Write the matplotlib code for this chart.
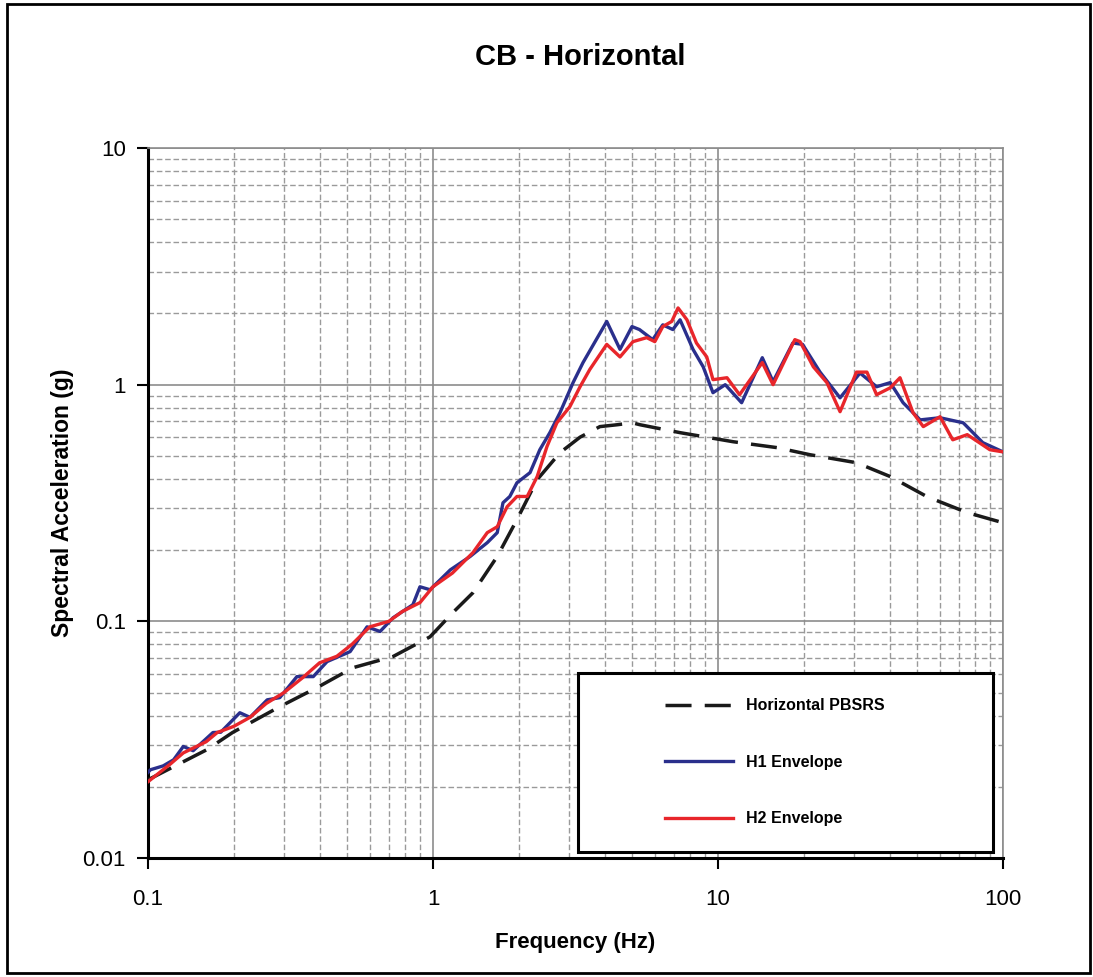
import matplotlib
matplotlib.use("Agg")
import matplotlib.pyplot as plt
from matplotlib.patches import Rectangle
from matplotlib.ticker import LogLocator, NullFormatter, FixedLocator, FixedFormatter

# Horizontal PBSRS (design spectrum)
pbsrs_freq = [0.1, 0.161, 0.198, 0.29, 0.392, 0.524, 0.724, 0.976, 1.175, 1.38,
              1.68, 1.97, 2.32, 2.79, 3.28, 3.85, 4.42, 5.0, 5.33, 7.36,
              11.3, 16.1, 21.0, 30.6, 40.2, 54.2, 74.9, 100.0]
pbsrs_sa = [0.0214, 0.0287, 0.0339, 0.0436, 0.0525, 0.0637, 0.071, 0.086, 0.109, 0.132,
            0.188, 0.269, 0.397, 0.516, 0.60, 0.665, 0.677, 0.69, 0.677, 0.627,
            0.574, 0.542, 0.506, 0.468, 0.409, 0.336, 0.288, 0.261]

# H1 envelope
h1_freq = [0.1, 0.102, 0.113, 0.123, 0.133, 0.144, 0.169, 0.18, 0.21, 0.228,
           0.262, 0.29, 0.333, 0.38, 0.425, 0.512, 0.587, 0.652, 0.724, 0.85,
           0.9, 0.976, 1.15, 1.35, 1.55, 1.68, 1.76, 1.86, 1.97, 2.19,
           2.37, 2.57, 2.79, 3.1, 3.36, 4.07, 4.53, 4.99, 5.3, 5.9,
           6.4, 6.94, 7.36, 8.17, 8.87, 9.6, 10.6, 12.1, 14.3, 15.6,
           18.3, 19.8, 22.8, 26.8, 31.5, 36.0, 40.2, 44.6, 51.2, 60.1,
           72.5, 84.9, 100.0]
h1_sa = [0.023, 0.0236, 0.0245, 0.026, 0.0296, 0.0284, 0.0339, 0.034, 0.0411, 0.0393,
         0.0466, 0.0476, 0.0584, 0.0584, 0.0676, 0.0745, 0.0948, 0.0906, 0.1035, 0.1176,
         0.140, 0.136, 0.165, 0.188, 0.215, 0.237, 0.317, 0.337, 0.385, 0.425,
         0.531, 0.627, 0.762, 1.02, 1.24, 1.85, 1.41, 1.76, 1.71, 1.55,
         1.79, 1.71, 1.88, 1.41, 1.19, 0.925, 1.0, 0.839, 1.30, 1.03,
         1.50, 1.48, 1.13, 0.88, 1.12, 0.98, 1.02, 0.839, 0.71, 0.725,
         0.69, 0.569, 0.52]

# H2 envelope
h2_freq = [0.1, 0.12, 0.133, 0.16, 0.175, 0.2, 0.228, 0.26, 0.3, 0.35,
           0.4, 0.46, 0.52, 0.6, 0.7, 0.78, 0.9, 1.0, 1.17, 1.38,
           1.55, 1.68, 1.82, 1.97, 2.14, 2.32, 2.51, 2.72, 3.02, 3.28,
           3.55, 4.07, 4.53, 5.03, 5.62, 6.0, 6.4, 6.88, 7.24, 7.78,
           8.4, 9.13, 9.6, 10.75, 11.9, 14.3, 15.6, 18.6, 19.4, 21.6,
           24.1, 26.8, 30.6, 33.3, 36.0, 40.2, 43.5, 48.3, 52.5, 60.1,
           66.6, 74.9, 89.9, 100.0]
h2_sa = [0.021, 0.025, 0.0278, 0.031, 0.0339, 0.036, 0.0393, 0.045, 0.05, 0.058,
         0.0668, 0.0712, 0.08, 0.0948, 0.10, 0.11, 0.12, 0.140, 0.16, 0.195,
         0.237, 0.251, 0.305, 0.337, 0.337, 0.409, 0.547, 0.69, 0.807, 0.98,
         1.16, 1.48, 1.31, 1.52, 1.58, 1.52, 1.76, 1.85, 2.11, 1.88,
         1.50, 1.31, 1.05, 1.07, 0.907, 1.24, 1.0, 1.55, 1.52, 1.19,
         1.02, 0.769, 1.13, 1.13, 0.907, 0.97, 1.07, 0.762, 0.665, 0.732,
         0.585, 0.615, 0.531, 0.52]

x_ticks = [0.1, 1, 10, 100]
x_ticklabels = ["0.1", "1", "10", "100"]
y_ticks = [0.01, 0.1, 1, 10]
y_ticklabels = ["0.01", "0.1", "1", "10"]

FONT = ["Liberation Sans Narrow", "Liberation Sans", "DejaVu Sans"]
plt.rcParams["font.family"] = FONT

fig = plt.figure(figsize=(10.93, 9.77), dpi=100)
ax = fig.add_axes([0.1354, 0.1218, 0.7823, 0.7267])

ax.plot(pbsrs_freq, pbsrs_sa, color="#1a1a1a", lw=2.5, dashes=(7.5, 3.8),
        label="Horizontal PBSRS", zorder=3)
ax.plot(h1_freq, h1_sa, color="#2a2f8c", lw=2.4, label="H1 Envelope", zorder=4)
ax.plot(h2_freq, h2_sa, color="#e8262b", lw=2.4, label="H2 Envelope", zorder=5)

ax.set_xscale("log")
ax.set_yscale("log")
ax.set_xlim(0.1, 100)
ax.set_ylim(0.01, 10)

ax.xaxis.set_major_locator(FixedLocator(x_ticks))
ax.xaxis.set_major_formatter(FixedFormatter(x_ticklabels))
ax.yaxis.set_major_locator(FixedLocator(y_ticks))
ax.yaxis.set_major_formatter(FixedFormatter(y_ticklabels))
ax.xaxis.set_minor_locator(LogLocator(base=10, subs=range(2, 10)))
ax.yaxis.set_minor_locator(LogLocator(base=10, subs=range(2, 10)))
ax.xaxis.set_minor_formatter(NullFormatter())
ax.yaxis.set_minor_formatter(NullFormatter())

ax.grid(which="major", color="#8c8c8c", lw=1.2, ls="-")
ax.grid(which="minor", color="#9a9a9a", lw=1.0, ls=(0, (4, 2)))
ax.set_axisbelow(True)

ax.tick_params(which="major", direction="out", length=8, width=1.5,
               labelsize=16, color="black")
ax.tick_params(axis="x", which="major", pad=14)
ax.tick_params(axis="y", which="major", pad=8)
ax.tick_params(which="minor", length=0)

for side in ("left", "bottom"):
    ax.spines[side].set_color("black")
    ax.spines[side].set_linewidth(2.2)
for side in ("top", "right"):
    ax.spines[side].set_color("#8c8c8c")
    ax.spines[side].set_linewidth(1.2)

ax.set_xlabel("Frequency (Hz)", fontsize=16, fontweight="bold", labelpad=16)
ax.set_ylabel("Spectral Acceleration (g)", fontsize=16.5, fontweight="bold", labelpad=6)
fig.text(0.531, 0.942, "CB - Horizontal", ha="center", va="center",
         fontsize=21, fontweight="bold")

# legend box with heavy border
ax.add_patch(Rectangle((0.503, 0.0085), 0.485, 0.252, transform=ax.transAxes,
                       facecolor="white", edgecolor="black", lw=2.2, zorder=6))
leg = ax.legend(loc="center left", bbox_to_anchor=(0.595, 0.135), frameon=False,
                fontsize=11.5, handlelength=4.3, handletextpad=0.8,
                labelspacing=2.6, borderpad=0)
leg.set_zorder(7)
for t in leg.get_texts():
    t.set_fontweight("bold")

# outer chart frame
fig.add_artist(Rectangle((0.006, 0.004), 0.991, 0.992, transform=fig.transFigure,
                         fill=False, edgecolor="black", lw=2.0))

fig.savefig("out.png", dpi=100, facecolor="white")
